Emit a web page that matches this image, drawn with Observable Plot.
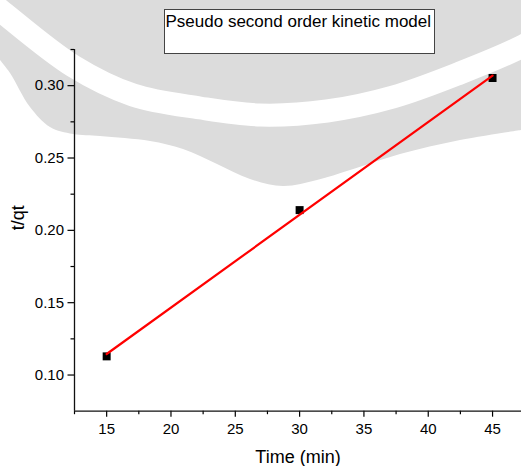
<!DOCTYPE html>
<html>
<head>
<meta charset="utf-8">
<script src="https://cdn.jsdelivr.net/npm/d3@7"></script>
<script src="https://cdn.jsdelivr.net/npm/@observablehq/plot@0.6"></script>
<style>
  html, body { margin: 0; padding: 0; background: #fff; }
  #wrap { position: relative; width: 521px; height: 466px; overflow: hidden; font-family: "Liberation Sans", Arial, sans-serif; }
  #wrap > svg { position: absolute; left: 0; top: 0; }
  #legend { position: absolute; left: 163.5px; top: 9px; width: 271px; height: 45px; box-sizing: border-box;
    border: 1px solid #444; background: #fff; font-size: 17px; line-height: 17px; padding: 3px 0 0 1px; color: #000; white-space: nowrap; }
</style>
</head>
<body>
<div id="wrap"></div>
<script>
// ---- data ----
const time = [15, 30, 45];
const tqt = [0.1129, 0.214, 0.3053];
const xTicks = [15, 20, 25, 30, 35, 40, 45];
const xMinor = [12.5, 17.5, 22.5, 27.5, 32.5, 37.5, 42.5];
const yTicks = [0.10, 0.15, 0.20, 0.25, 0.30];
const yMinor = [0.125, 0.175, 0.225, 0.275, 0.325];
const xDomain = [12.5, 47.25];
const yDomain = [0.075, 0.325];
const title = "Pseudo second order kinetic model";
const xLabel = "Time (min)";
const yLabel = "t/qt";

// background watermark (decoration, page pixels)
const watermarkLowerEdge = [[521,130],[460,140],[400,154],[350,170],[317,180],[283,186],[250,179],[217,164],[183,149],[150,141],[100,136],[73,134],[50,127],[30,107],[10,73],[0,60]];
const watermarkBand = [[-15,-2],[0,10],[73,66],[133,95],[200,108],[260,115],[327,111],[393,97],[460,73],[521,47],[545,33]];

const points = time.map((t, i) => ({time: t, tqt: tqt[i]}));
const wrap = document.getElementById("wrap");

// watermark layer
const bg = d3.create("svg").attr("width", 521).attr("height", 466);
const curve = d3.line().curve(d3.curveCatmullRom);
const edgePath = curve(watermarkLowerEdge);
bg.append("path").attr("d", "M0,0L521,0L" + edgePath.slice(1) + "Z").attr("fill", "#dcdcdc");
bg.append("path").attr("d", curve(watermarkBand)).attr("fill", "none").attr("stroke", "#fff").attr("stroke-width", 23);
wrap.appendChild(bg.node());

const chart = Plot.plot({
  width: 521,
  height: 466,
  marginLeft: 74,
  marginRight: 0,
  marginTop: 49,
  marginBottom: 55.3,
  x: {domain: xDomain},
  y: {domain: yDomain},
  style: {fontFamily: "'Liberation Sans', Arial, sans-serif", fontSize: "15px", background: "transparent", color: "#000"},
  marks: [
    Plot.axisX(xTicks, {tickSize: 6, tickPadding: 6, tickFormat: d => d, label: null, fontSize: 15, strokeWidth: 1.2}),
    Plot.axisX(xMinor, {tickSize: 3.5, tickFormat: () => "", label: null, strokeWidth: 1.2}),
    Plot.axisY(yTicks, {tickSize: 6.5, tickPadding: 4, tickFormat: d3.format(".2f"), label: null, fontSize: 15, strokeWidth: 1.2}),
    Plot.axisY(yMinor, {tickSize: 3.5, tickFormat: () => "", label: null, strokeWidth: 1.2}),
    Plot.ruleX([xDomain[0]], {stroke: "#111", strokeWidth: 1.3}),
    Plot.ruleY([yDomain[0]], {stroke: "#111", strokeWidth: 1.3}),
    Plot.dot(points, {x: "time", y: "tqt", symbol: "square", r: 4.5, fill: "#000", stroke: null}),
    Plot.linearRegressionY(points, {x: "time", y: "tqt", stroke: "#ff0000", strokeWidth: 2.2, ci: 0}),
    Plot.text([xLabel], {text: d => d, frameAnchor: "bottom", dy: 46, fontSize: 18, lineAnchor: "middle"}),
    Plot.text([yLabel], {text: d => d, frameAnchor: "left", dx: -56, rotate: -90, fontSize: 18, lineAnchor: "middle"})
  ]
});
wrap.appendChild(chart);

const legend = document.createElement("div");
legend.id = "legend";
legend.textContent = title;
wrap.appendChild(legend);
</script>
</body>
</html>
